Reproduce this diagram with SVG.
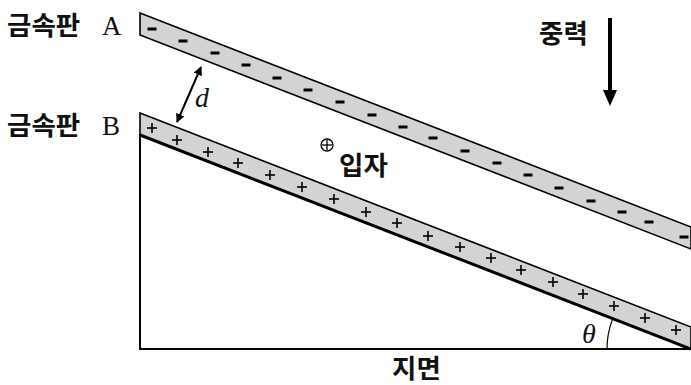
<svg xmlns="http://www.w3.org/2000/svg" width="691" height="385" viewBox="0 0 691 385">
<style>
.plate{fill:#d3d3d3;stroke:#000;stroke-width:1.6}
.ko{font-family:"Noto Sans CJK KR","Noto Sans",sans-serif;font-weight:700;font-size:26.5px;fill:#111}
.lat{font-family:"Liberation Serif",serif;font-size:27px;fill:#111}
.it{font-family:"Liberation Serif",serif;font-style:italic;font-size:28px;fill:#111}
.mn{stroke:#000;stroke-width:3}
.pl{stroke:#000;stroke-width:1.6}
.ln{stroke:#000;fill:none}
</style>
<defs>
<marker id="ah" viewBox="0 0 10 10" refX="9" refY="5" markerWidth="4.5" markerHeight="4.5" orient="auto-start-reverse">
<path d="M0,0 L10,5 L0,10 z" fill="#000"/>
</marker>
<g id="minus"><line class="mn" x1="-4.5" y1="0" x2="4.5" y2="0"/></g>
<g id="plus"><line class="pl" x1="-5" y1="0" x2="5" y2="0"/><line class="pl" x1="0" y1="-5" x2="0" y2="5"/></g>
</defs>

<g id="ground">
<line class="ln" x1="140" y1="134" x2="140" y2="349" stroke-width="2"/>
<line class="ln" x1="139" y1="349" x2="691" y2="349" stroke-width="2"/>
<path class="ln" d="M607,349 A84,84 0 0 1 612.7,318.6" stroke-width="1.2"/>
<text class="it" x="582" y="343">θ</text>
<text class="ko" x="392" y="378">지면</text>
</g>

<g id="plateA">
<polygon class="plate" points="140,13 691,227 691,249 140,35"/>
<use href="#minus" x="152" y="29"/><use href="#minus" x="183" y="41"/><use href="#minus" x="215" y="53"/>
<use href="#minus" x="246" y="65"/><use href="#minus" x="277" y="78"/><use href="#minus" x="308" y="90"/>
<use href="#minus" x="340" y="102"/><use href="#minus" x="372" y="115"/><use href="#minus" x="403" y="127"/>
<use href="#minus" x="433" y="138"/><use href="#minus" x="465" y="151"/><use href="#minus" x="497" y="163"/>
<use href="#minus" x="528" y="175"/><use href="#minus" x="559" y="188"/><use href="#minus" x="591" y="201"/>
<use href="#minus" x="622" y="212"/><use href="#minus" x="649" y="222"/><use href="#minus" x="684" y="237"/>
<text class="ko" x="7" y="35">금속판</text><text class="lat" x="102" y="35">A</text>
</g>

<g id="plateB">
<polygon class="plate" points="140,113 691,327 691,349 140,135"/>
<line class="ln" x1="140" y1="135" x2="691" y2="349" stroke-width="3"/>
<use href="#plus" x="152" y="128"/><use href="#plus" x="177" y="140"/><use href="#plus" x="208" y="152"/>
<use href="#plus" x="238" y="163"/><use href="#plus" x="270" y="175"/><use href="#plus" x="302" y="187"/>
<use href="#plus" x="334" y="199"/><use href="#plus" x="366" y="212"/><use href="#plus" x="397" y="223"/>
<use href="#plus" x="428" y="236"/><use href="#plus" x="460" y="247"/><use href="#plus" x="491" y="258"/>
<use href="#plus" x="521" y="270"/><use href="#plus" x="553" y="282"/><use href="#plus" x="583" y="294"/>
<use href="#plus" x="614" y="306"/><use href="#plus" x="645" y="318"/><use href="#plus" x="676" y="330"/>
<text class="ko" x="7" y="135">금속판</text><text class="lat" x="102" y="135">B</text>
</g>

<g id="particle">
<circle cx="327" cy="145" r="6" fill="none" stroke="#000" stroke-width="1.3"/>
<line class="ln" x1="322" y1="145" x2="332" y2="145" stroke-width="1.3"/>
<line class="ln" x1="327" y1="140" x2="327" y2="150" stroke-width="1.3"/>
<text class="ko" x="339" y="175">입자</text>
</g>

<g id="gravity">
<text class="ko" x="539" y="43">중력</text>
</g>

<g id="connectors">
<line class="ln" x1="201" y1="67" x2="177" y2="122" stroke-width="2" marker-start="url(#ah)" marker-end="url(#ah)"/>
<line class="ln" x1="610" y1="18" x2="610" y2="92" stroke-width="4"/>
<polygon points="603,90 617,90 610,106" fill="#000"/>
<text class="it" x="195" y="107">d</text>
</g>
</svg>
